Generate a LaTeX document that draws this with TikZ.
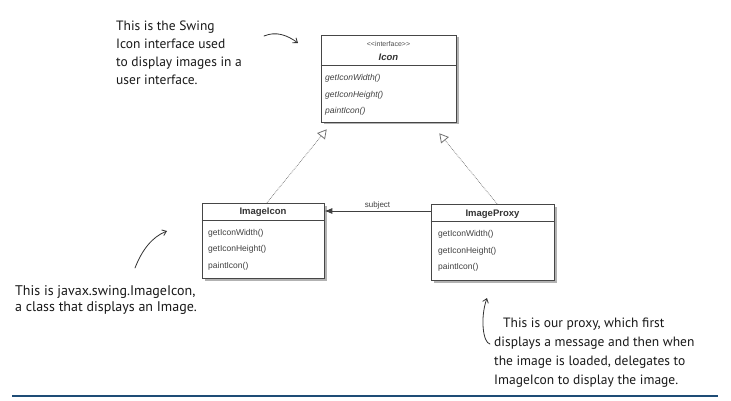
\documentclass[tikz,border=0pt]{standalone}
\usepackage{fontspec}
\setmainfont{Liberation Sans}
\newfontfamily\handfont{PT Sans}
\usetikzlibrary{arrows.meta,shadows,calc}
\definecolor{rulenavy}{RGB}{30,76,118}
\definecolor{umlline}{RGB}{70,70,70}
\begin{document}
\begin{tikzpicture}[x=1pt,y=-1pt,
  umlbox/.style={draw=umlline, fill=white, line width=0.6pt, inner sep=0pt,
    drop shadow={shadow xshift=2.5pt, shadow yshift=-2.5pt, fill=black!50, opacity=0.6}},
  umltext/.style={font=\fontsize{8.5}{10}\selectfont, text=black!75, inner sep=0pt, anchor=west},
  umlhead/.style={font=\bfseries\fontsize{9.5}{11}\selectfont, text=black!80, inner sep=0pt},
  sepline/.style={draw=umlline, line width=0.6pt},
  note/.style={font=\handfont\fontsize{13.5}{18}\selectfont, text=black!90, align=left, inner sep=0pt, anchor=north west},
  realize/.style={densely dotted, draw=black!55, line width=0.7pt,
    -{Triangle[open, length=9pt, width=10pt, fill=white, line width=0.8pt]}},
  assoc/.style={draw=black!75, line width=1pt, -{Latex[length=8pt, width=6pt]}},
  hand/.style={draw=black!80, line width=0.8pt, line cap=round, -{Straight Barb[length=4pt, width=6pt]}}
]
\useasboundingbox (0,0) rectangle (731,401);
\fill[white] (0,0) rectangle (731,401);

% Icon interface
\node[umlbox, minimum width=135pt, minimum height=87pt] (icon) at (388.5,78.5) {};
\draw[sepline] ($(icon.north west)+(0,31)$) -- ($(icon.north east)+(0,31)$);
\node[font=\fontsize{7}{8}\selectfont, text=black!70, inner sep=0pt] (stereo) at (388.5,44) {<\kern0pt<interface>\kern0pt>};
\node[umlhead, font=\bfseries\itshape\fontsize{9.5}{11}\selectfont] (iconname) at (388.5,57) {Icon};
\node[umltext] (im1) at (325,78) {\itshape getIconWidth()};
\node[umltext] (im2) at (325,95) {\itshape getIconHeight()};
\node[umltext] (im3) at (325,111) {\itshape paintIcon()};

% ImageIcon
\node[umlbox, minimum width=122pt, minimum height=75pt] (imageicon) at (263,240.5) {};
\draw[sepline] ($(imageicon.north west)+(0,18)$) -- ($(imageicon.north east)+(0,18)$);
\node[umlhead] (iiname) at (263,212.5) {ImageIcon};
\node[umltext] (ii1) at (208,233) {getIconWidth()};
\node[umltext] (ii2) at (208,249.5) {getIconHeight()};
\node[umltext] (ii3) at (208,266) {paintIcon()};

% ImageProxy
\node[umlbox, minimum width=123pt, minimum height=76pt] (imageproxy) at (492.5,242) {};
\draw[sepline] ($(imageproxy.north west)+(0,18)$) -- ($(imageproxy.north east)+(0,18)$);
\node[umlhead] (ipname) at (492.5,214) {ImageProxy};
\node[umltext] (ip1) at (438,234.5) {getIconWidth()};
\node[umltext] (ip2) at (438,251) {getIconHeight()};
\node[umltext] (ip3) at (438,267.5) {paintIcon()};

% realization
\draw[realize] ([xshift=4pt]imageicon.north) -- ([shift={(6,7)}]icon.south west);
\draw[realize] ([xshift=4.5pt]imageproxy.north) -- ([shift={(-17,11)}]icon.south east);

% association
\draw[assoc] ([shift={(0,-31)}]imageproxy.west) -- ([shift={(0,-31)}]imageproxy.west -| imageicon.east)
  node[midway, above=1.5pt, font=\fontsize{8}{9}\selectfont, text=black!75, inner sep=0pt] (subj) {subject};

% notes
\node[note] (note1) at (116,21) {This is the Swing\\Icon interface used\\to display images in a\\user interface.};
\node[note, font=\handfont\fontsize{14}{16}\selectfont] (note2) at (15,285) {This is javax.swing.ImageIcon,\\a class that displays an Image.};
\node[note, font=\handfont\fontsize{13.5}{19}\selectfont] (note3) at (494,318) {\hspace*{9pt}This is our proxy, which first\\displays a message and then when\\the image is loaded, delegates to\\ImageIcon to display the image.};

% hand arrows
\coordinate (a1s) at (264,36);
\coordinate (a1e) at (298,43);
\draw[hand] (a1s) .. controls (276,31) and (287,35) .. (a1e);
\coordinate (a2s) at (135,268);
\coordinate (a2e) at (167,231);
\draw[hand] (a2s) .. controls (142,250) and (152,237) .. (a2e);
\coordinate (a3s) at (490,344);
\coordinate (a3e) at (487,298);
\draw[hand] (a3s) .. controls (483,343) and (480,318) .. (a3e);

% bottom rule
\coordinate (r1) at (12,396);
\coordinate (r2) at (718,396);
\draw[rulenavy, line width=2pt] (r1) -- (r2);
\end{tikzpicture}
\end{document}
